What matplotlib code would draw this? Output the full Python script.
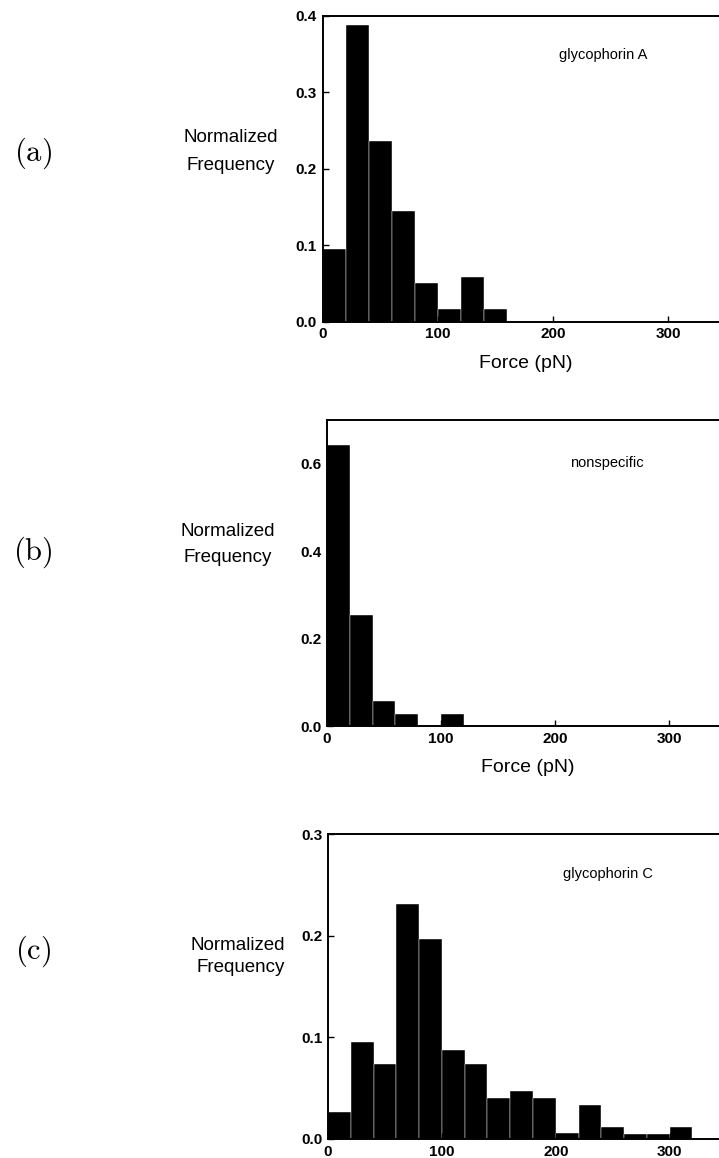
import numpy as np
import matplotlib
matplotlib.use('Agg')
import matplotlib.pyplot as plt
from matplotlib.ticker import FormatStrFormatter, MultipleLocator

plt.rcParams['font.family'] = ['Liberation Sans', 'DejaVu Sans']
plt.rcParams['mathtext.fontset'] = 'cm'

# bin left edges (pN), bin width 20
bin_width = 20
edges_a = np.arange(0, 160, 20)
freq_a = [0.095, 0.388, 0.236, 0.145, 0.051, 0.016, 0.059, 0.016]

edges_b = np.arange(0, 120, 20)
freq_b = [0.642, 0.253, 0.057, 0.028, 0.0, 0.028]

edges_c = np.arange(0, 320, 20)
freq_c = [0.027, 0.095, 0.074, 0.231, 0.197, 0.088, 0.074, 0.040,
          0.047, 0.040, 0.006, 0.033, 0.012, 0.005, 0.005, 0.012]

panel_names = ['glycophorin A', 'nonspecific', 'glycophorin C']
panel_tags = ['(a)', '(b)', '(c)']

W, H = 719, 1158
fig = plt.figure(figsize=(W / 100, H / 100), dpi=100)

def px_axes(left, top, bottom, px_per_unit, xmax=350):
    width = xmax * px_per_unit
    return fig.add_axes([left / W, 1 - bottom / H, width / W, (bottom - top) / H])

def style(ax, ymax, ystep):
    ax.set_xlim(0, 350)
    ax.set_ylim(0, ymax)
    ax.spines['right'].set_visible(False)
    for s in ['left', 'top', 'bottom']:
        ax.spines[s].set_linewidth(1.4)
    ax.xaxis.set_major_locator(MultipleLocator(100))
    ax.yaxis.set_major_locator(MultipleLocator(ystep))
    ax.xaxis.set_major_formatter(FormatStrFormatter('%d'))
    ax.yaxis.set_major_formatter(FormatStrFormatter('%.1f'))
    ax.tick_params(direction='in', length=4, width=1, labelsize=11, pad=4)
    for lab in ax.get_xticklabels() + ax.get_yticklabels():
        lab.set_fontweight('bold')

def fig_text(x, y, s, **kw):
    fig.text(x / W, 1 - y / H, s, ha='center', va='center', **kw)

# (a)
ax_a = px_axes(322.5, 15.7, 321.7, 1.153)
ax_a.bar(edges_a, freq_a, width=bin_width, align='edge', color='black',
         edgecolor='white', linewidth=0.3)
style(ax_a, 0.4, 0.1)

# (b)
ax_b = px_axes(327, 420, 726, 1.14)
ax_b.bar(edges_b, freq_b, width=bin_width, align='edge', color='black',
         edgecolor='white', linewidth=0.3)
style(ax_b, 0.7, 0.2)

# (c)
ax_c = px_axes(328, 834, 1139, 1.139)
ax_c.bar(edges_c, freq_c, width=bin_width, align='edge', color='black',
         edgecolor='white', linewidth=0.3)
style(ax_c, 0.3, 0.1)

# x labels for (a) and (b)
fig_text(526, 363, 'Force (pN)', fontsize=14)
fig_text(528, 768, 'Force (pN)', fontsize=14)

# y labels
fig_text(231, 138, 'Normalized', fontsize=13.5)
fig_text(231, 165, 'Frequency', fontsize=13.5)
fig_text(228, 532, 'Normalized', fontsize=13.5)
fig_text(228, 558, 'Frequency', fontsize=13.5)
fig_text(238, 945, 'Normalized', fontsize=13.5)
fig_text(241, 968, 'Frequency', fontsize=13.5)

# panel tags
for tag, y in zip(panel_tags, [153, 552, 951]):
    fig_text(33, y, r'$\mathrm{' + tag + '}$', fontsize=22)

# annotations
for name, (x, y) in zip(panel_names, [(603, 55), (607, 463), (608, 874)]):
    fig_text(x, y, name, fontsize=10.5)

fig.savefig('out.png', dpi=100)
